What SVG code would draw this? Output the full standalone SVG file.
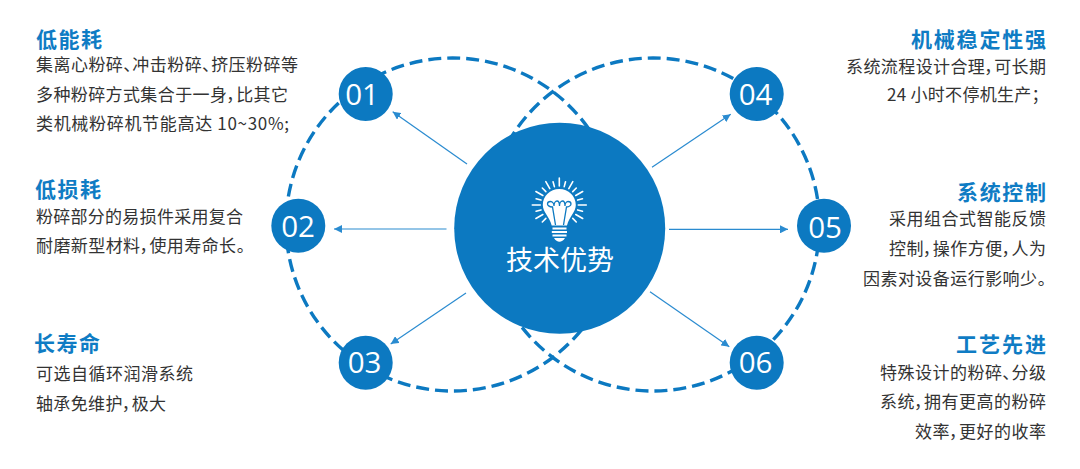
<svg xmlns="http://www.w3.org/2000/svg" xmlns:xlink="http://www.w3.org/1999/xlink" width="1080" height="469" viewBox="0 0 1080 469">
<style>
text{font-family:"Noto Sans CJK SC","Noto Sans",sans-serif;font-feature-settings:"palt"}
.h{font-size:21px;font-weight:700;fill:#0f7cc4}
.b{font-size:17px;fill:#333}
.n{font-family:"Open Sans","Noto Sans",sans-serif;font-size:29.5px;fill:#fff;text-anchor:middle}
.dot{fill:#0c79c1}
.ring{fill:none;stroke:#0c79c1;stroke-width:3.4;stroke-dasharray:13 6}
.arrow{fill:none;stroke:#2a8bd0;stroke-width:1.2;marker-end:url(#ah)}
.ray{stroke:#fff;stroke-width:1.6;stroke-linecap:round;fill:none}
.fil{stroke:#0c79c1;stroke-width:1.3;fill:none}
</style>
<defs>
<marker id="ah" markerUnits="userSpaceOnUse" markerWidth="9" markerHeight="8" refX="8" refY="4" orient="auto"><path d="M0 0L8 4L0 8Z" fill="#2a8bd0"/></marker>
<line id="rl" class="ray" x1="559.3" y1="186" x2="559.3" y2="178"/>
<line id="rs" class="ray" x1="559.3" y1="186" x2="559.3" y2="181"/>
</defs>
<rect width="1080" height="469" fill="#fff"/>
<g id="connectors">
<circle class="ring" cx="452.5" cy="224.5" r="166.5"/>
<circle class="ring" cx="653" cy="224.5" r="166.5"/>
<line class="arrow" x1="467" y1="164" x2="392.7" y2="111.7"/>
<line class="arrow" x1="446.5" y1="229" x2="334" y2="229"/>
<line class="arrow" x1="466" y1="293" x2="390.7" y2="344"/>
<line class="arrow" x1="652" y1="167.3" x2="730.7" y2="114.3"/>
<line class="arrow" x1="669" y1="229.3" x2="788" y2="229.3"/>
<line class="arrow" x1="650" y1="291.7" x2="729.3" y2="346.7"/>
</g>
<g id="center">
<circle class="dot" cx="559.7" cy="228.3" r="105.5"/>
<g id="bulb">
<use href="#rl" transform="rotate(-120 559.3 205)"/><use href="#rs" transform="rotate(-135 559.3 205)"/><use href="#rs" transform="rotate(-105 559.3 205)"/>
<use href="#rl" transform="rotate(-90 559.3 205)"/><use href="#rs" transform="rotate(-75 559.3 205)"/><use href="#rl" transform="rotate(-60 559.3 205)"/>
<use href="#rs" transform="rotate(-45 559.3 205)"/><use href="#rl" transform="rotate(-30 559.3 205)"/><use href="#rs" transform="rotate(-15 559.3 205)"/>
<use href="#rl"/><use href="#rs" transform="rotate(15 559.3 205)"/><use href="#rl" transform="rotate(30 559.3 205)"/>
<use href="#rs" transform="rotate(45 559.3 205)"/><use href="#rl" transform="rotate(60 559.3 205)"/><use href="#rs" transform="rotate(75 559.3 205)"/>
<use href="#rl" transform="rotate(90 559.3 205)"/><use href="#rs" transform="rotate(105 559.3 205)"/><use href="#rl" transform="rotate(120 559.3 205)"/><use href="#rs" transform="rotate(135 559.3 205)"/>
<path d="M559.3 189C550 189 542.8 196.2 542.8 205C542.8 212 549.5 216.5 551.7 225.5H567C569.2 216.5 575.8 212 575.8 205C575.8 196.2 568.6 189 559.3 189Z" fill="#fff"/>
<path d="M552.5 227.5H566.5V229.5H552.5ZM551.8 231H567V233H551.8ZM552.5 234.5H566.5V236.5H552.5ZM554 238H565C563.5 240.5 561.5 241.7 559.5 241.7C557.5 241.7 555.5 240.5 554 238Z" fill="#fff"/>
<path class="fil" d="M555.5 225L552.5 207C549 207 547.5 205 547.5 204C547.5 202.5 549 201.5 550.5 201.5C552.5 201.5 554 203.5 554 206M554 206C554 203 555.5 201 557 201C558.5 201 559.5 203 559.5 206C559.5 203 561 201 562.5 201C564 201 565 203.5 565 206C565 203.5 566.5 201.5 568 201.5C569.5 201.5 571 202.5 571 204C571 205 569.5 207 566.5 207L563.5 225"/>
</g>
<text x="506" y="270" font-size="27" fill="#fff" textLength="108">技术优势</text>
</g>
<g id="n01"><circle class="dot" cx="365.7" cy="94" r="27"/><text class="n" x="362" y="104.5">01</text>
<text class="h" x="36" y="47" textLength="66">低能耗</text>
<text class="b" x="36" y="71" textLength="262">集离心粉碎、冲击粉碎、挤压粉碎等</text>
<text class="b" x="36" y="101" textLength="252">多种粉碎方式集合于一身，比其它</text>
<text class="b" x="36" y="130" textLength="253">类机械粉碎机节能高达 10~30%;</text></g>
<g id="n02"><circle class="dot" cx="298.3" cy="225.7" r="27"/><text class="n" x="298" y="236.5">02</text>
<text class="h" x="35" y="197" textLength="66">低损耗</text>
<text class="b" x="36" y="223" textLength="207">粉碎部分的易损件采用复合</text>
<text class="b" x="36" y="252" textLength="209">耐磨新型材料，使用寿命长。</text></g>
<g id="n03"><circle class="dot" cx="365.7" cy="362.7" r="27"/><text class="n" x="364.5" y="372.5">03</text>
<text class="h" x="34" y="351" textLength="66">长寿命</text>
<text class="b" x="36" y="380" textLength="157">可选自循环润滑系统</text>
<text class="b" x="36" y="410" textLength="130">轴承免维护，极大</text></g>
<g id="n04"><circle class="dot" cx="756.7" cy="94" r="27"/><text class="n" x="755.5" y="104.5">04</text>
<text class="h" x="911" y="47" textLength="135">机械稳定性强</text>
<text class="b" x="846" y="73" textLength="200">系统流程设计合理，可长期</text>
<text class="b" x="887" y="101" textLength="153">24 小时不停机生产；</text></g>
<g id="n05"><circle class="dot" cx="824" cy="225.7" r="27"/><text class="n" x="825" y="238">05</text>
<text class="h" x="957" y="200" textLength="89">系统控制</text>
<text class="b" x="889" y="225" textLength="157">采用组合式智能反馈</text>
<text class="b" x="889" y="255" textLength="157">控制，操作方便，人为</text>
<text class="b" x="863" y="285" textLength="183">因素对设备运行影响少。</text></g>
<g id="n06"><circle class="dot" cx="756.7" cy="362.7" r="27"/><text class="n" x="755.5" y="372.5">06</text>
<text class="h" x="956" y="352" textLength="90">工艺先进</text>
<text class="b" x="880" y="379" textLength="166">特殊设计的粉碎、分级</text>
<text class="b" x="880" y="408" textLength="166">系统，拥有更高的粉碎</text>
<text class="b" x="915" y="438" textLength="131">效率，更好的收率</text></g>
</svg>
